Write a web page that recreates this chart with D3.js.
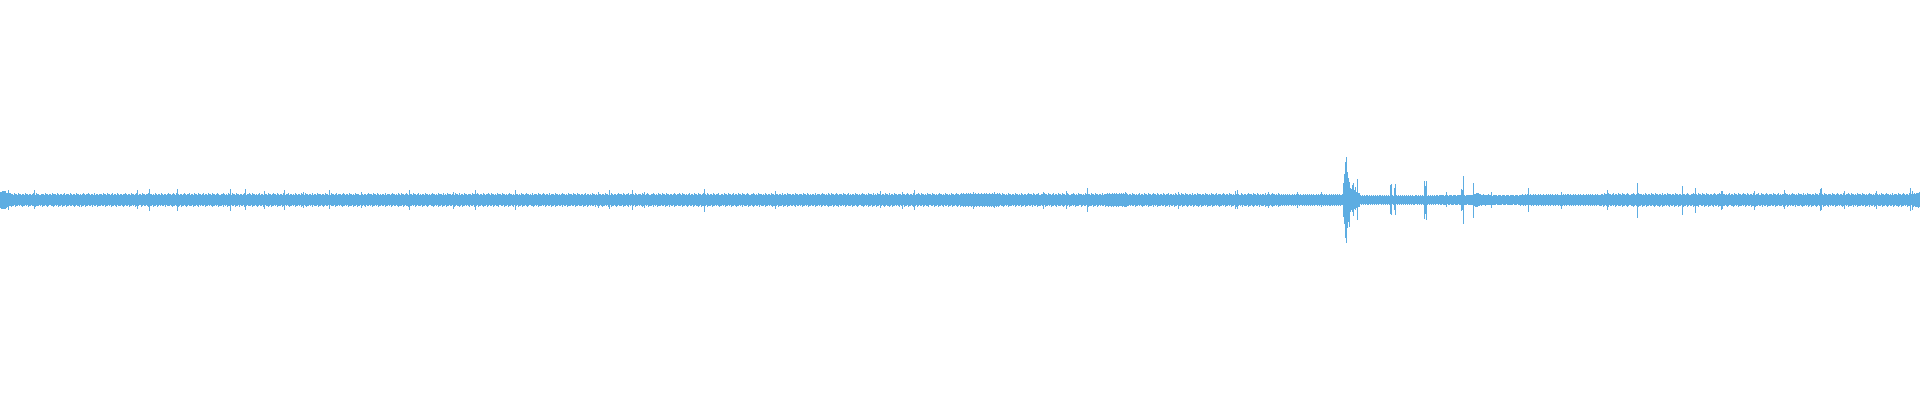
<!DOCTYPE html>
<html>
<head>
<meta charset="utf-8">
<script src="https://cdn.jsdelivr.net/npm/d3@7"></script>
<style>
  html, body { margin: 0; padding: 0; background: #ffffff; }
  svg { display: block; }
</style>
</head>
<body>
<svg id="chart" width="1920" height="400"></svg>
<script>
// Per-column peak amplitude above the centre line (one digit per sample column)
const upperPeaks = `
8899987767 7665766576 6566576656 6567657665 5666576656 6576665765 6656756665 7656657665
6567656676 5665756656 6657665766 5675665765 6656676566 5766567656 6576656675 6656576566
5765665676 6567657665 6656765667 5665766576 6567566576 6576656765 5667656576 6576657665
6656765667 6576656567 5665766576 6567665765 6657656675 6656576566 5766576656 6575665766
6566576656 5766567566 6567656657 6656576665 5765665676 6657665765 6566575666 5676656576
5766567656 6657665675 6566576656 5676656576 6657565766 6566576657 5665766566 6576656765
6657656676 5766565766 6576656567 6656576656 5766567665 6575666576 6567656657 5666576656
5676656576 6657665766 5665675665 6576656576 6566576656 5765665676 6657656675 6656576566
6576656765 5667656576 6576657665 6656765667 6576656567 5665766576 6567665765 6657656675
5665766576 6567566576 6576656765 5667656576 6656576566 5766576656 6575665766 6566576656
6657665765 6566575666 5676656576 5766567656 6657665675 6566576656 5676656576 6657565766
6566576657 5665766566 6576656765 6657656676 5766565766 6576656567 6656576656 5766567665
6767667676 7667676676 6766767667 6676766767 6576656576 6566576656 5765665676 6657656675
5665766576 6567566576 6576656765 5667656576 6656576566 5766576656 6575666767 6676767667
6767667656 6576656567 5665766576 6567665765 6657656675 6656576566 5766576656 6575665766
6566576656 5766567566 6567656657 6656576665 5765665676 6657665765 6566575666 5676656576
5656565656 5565656565 6556565656 5656556565 6565656556 5656565656 5565656566 6567777777
5454545545 4545454545 5454545454 4554545454 5454545454 5454455454 5454545454 5454545545
5555455545 5545554555 5455545555 5556667776 6556555565 5545555455 5455545554 5555455545
5565565655 6556565565 6556556565 6565565655 5656565665 6556565565 6556556565 6565565655
5665766576 6567566576 6576656765 5667656576 6656576566 5766576656 6575665766 6566576656
6576656765 5667656576 6576657665 6656765667 6576656567 5665766576 6567665765 6657656675
5766567656 6657665675 6566576656 5676656576 6657565766 6566576657 5665766566 6576656765
6657656676 5766565766 6576656567 6656576656 5766567665 6575666576 6567656657 5676767778
`;

// Per-column peak amplitude below the centre line
const lowerPeaks = `
8999988776 6766576656 5676656576 6566576665 6576656765 5667656576 6576657665 6656765667
5766576656 6575665766 6566576656 5766567566 6567656657 6656576665 5765665676 6657665765
6566575666 5676656576 5766567656 6657665675 6566576656 5676656576 6657565766 6566576657
5665766566 6576656765 6657656676 5766565766 6576656567 6656576656 5766567665 6575666576
6567656657 5666576656 5676656576 6657665766 5665675665 6576656576 6566576656 5765665676
6657656675 6656576566 6576656765 5667656576 6576657665 6656765667 6576656567 5665766576
6567665765 6657656675 5665766576 6567566576 6576656765 5667656576 6656576566 5766576656
6575665766 6566576656 6657665765 6566575666 5676656576 5766567656 6657665675 6566576656
5676656576 6657565766 6566576657 5665766566 6576656765 6657656676 5766565766 6576656567
6656576656 5766567665 6575666576 6567656657 5666576656 5676656576 6657665766 5665675665
6576656576 6566576656 5765665676 6657656675 6656576566 6576656765 5667656576 6576657665
6656765667 6576656567 5665766576 6567665765 6657656675 5665766576 6567566576 6576656765
7667676676 6766767667 6676766767 6767667676 5667656576 6656576566 5766576656 6575665766
6566576656 5766567566 6567656657 6656576665 5765665676 6657665765 6566576676 6767667676
6676767665 6566576656 5676656576 6657565766 6566576657 5665766566 6576656765 6657656676
5766565766 6576656567 6656576656 5766567665 6575666576 6567656657 5666576656 5676656576
6565656565 5656565656 5565656565 6565655656 5656565656 6565656565 6556565656 5656677777
4545454554 5454545454 4545454545 5445454545 4545454545 4545544545 4545454545 4545454454
5545555455 4555455545 5554555455 5556677766 5655565555 5455554555 5545554555 5554555455
6556565565 5656556565 5656565565 6556565565 6565656556 5656565565 6556565565 6565656556
6657656675 6656576566 6576656765 5667656576 6576657665 6656765667 6576656567 5665766576
6567665765 6657656675 5665766576 6567566576 6576656765 5667656576 6656576566 5766576656
6575665766 6566576656 6657665765 6566575666 5676656576 5766567656 6657665675 6566576656
5676656576 6657565766 6566576657 5665766566 6576656765 6657656676 5766565766 6567677787
`;

// Columns with larger peaks: [column, amplitude up, amplitude down]
const spikeColumns = [5, 8, 34, 137, 149, 177, 230, 245, 264, 284, 303,
  329, 361, 409, 453, 475, 515, 598, 609, 632,
  644, 704, 775, 880, 902, 914,
  973, 994, 1043, 1066, 1087, 1125, 1178, 1235, 1237, 1268,
  1297, 1321, 1343, 1344, 1345, 1346, 1347, 1348, 1349, 1350, 1351, 1352, 1353, 1354, 1355, 1356, 1357,
  1390, 1391, 1394, 1395, 1424, 1425, 1426, 1446, 1461, 1462, 1463, 1473, 1491, 1528, 1561,
  1607, 1637, 1682, 1695, 1721, 1722, 1754, 1784, 1820, 1821, 1844, 1876, 1910, 1912];
const spikeUp = [9, 10, 10, 10, 11, 11, 11, 11, 9, 10, 8,
  10, 8, 10, 8, 10, 10, 8, 10, 10,
  8, 11, 9, 9, 8, 10,
  8, 8, 8, 9, 12, 8, 8, 9, 10, 8,
  8, 8, 17, 26, 38, 43, 28, 22, 18, 12, 11, 15, 17, 10, 13, 8, 21,
  15, 16, 12, 16, 19, 14, 19, 8, 11, 10, 24, 17, 8, 12, 8,
  10, 17, 14, 12, 9, 9, 9, 10, 11, 12, 9, 9, 12, 9];
const spikeDown = [9, 10, 9, 9, 11, 11, 11, 10, 9, 10, 8,
  9, 8, 10, 9, 10, 10, 8, 9, 10,
  8, 12, 9, 8, 9, 10,
  9, 8, 9, 9, 12, 7, 9, 9, 9, 8,
  8, 7, 17, 24, 38, 43, 28, 22, 27, 12, 10, 12, 16, 9, 10, 8, 20,
  14, 15, 10, 15, 19, 14, 20, 7, 11, 10, 24, 18, 8, 12, 9,
  10, 18, 15, 13, 10, 9, 10, 9, 11, 10, 9, 9, 11, 10];

const parse = s => s.replace(/\s+/g, "").split("").map(Number);
const up = parse(upperPeaks);
const down = parse(lowerPeaks);
const n = Math.max(up.length, down.length);

const data = d3.range(n).map(i => ({ i, up: up[i] ?? 5, down: down[i] ?? 5 }));
spikeColumns.forEach((c, k) => {
  if (data[c]) { data[c].up = spikeUp[k]; data[c].down = spikeDown[k]; }
});

const W = 1920, H = 400;
const x = d3.scaleLinear().domain([0, n]).range([0, W]);
const y = d3.scaleLinear().domain([-200, 200]).range([H - 0.5, -0.5]);

const svg = d3.select("#chart");
svg.append("g")
  .attr("shape-rendering", "crispEdges")
  .selectAll("rect")
  .data(data)
  .join("rect")
  .attr("x", d => x(d.i))
  .attr("width", d => x(d.i + 1) - x(d.i))
  .attr("y", d => y(d.up))
  .attr("height", d => y(-d.down) - y(d.up))
  .attr("fill", "#5dade2");
</script>
</body>
</html>
